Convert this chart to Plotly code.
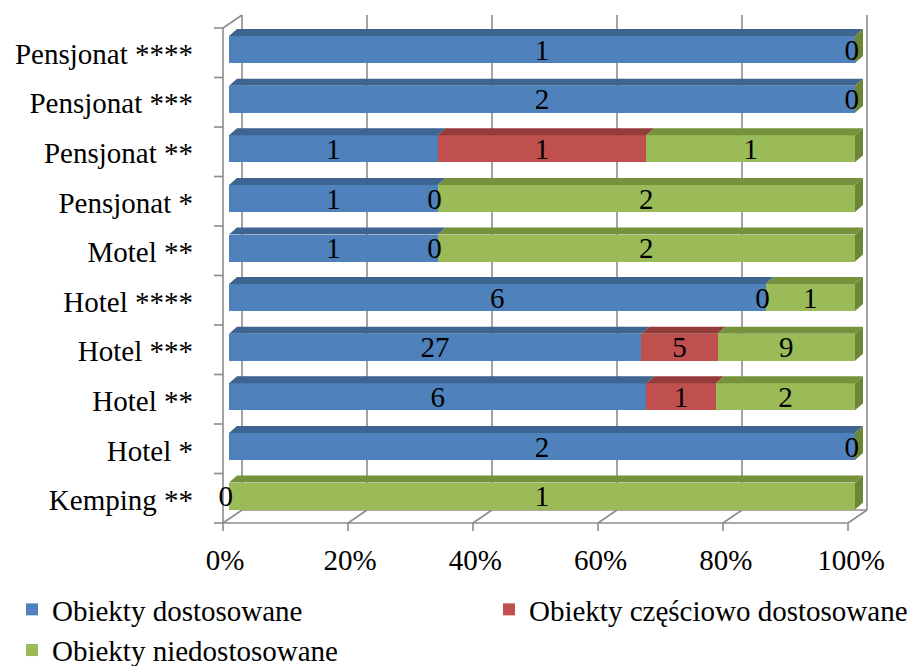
import plotly.graph_objects as go

# Accommodation categories, bottom row first
categories = ["Kemping **", "Hotel *", "Hotel **", "Hotel ***", "Hotel ****",
              "Motel **", "Pensjonat *", "Pensjonat **", "Pensjonat ***", "Pensjonat ****"]

# Object counts per category (None = no label / no entry)
dostosowane = [0, 2, 6, 27, 6, 1, 1, 1, 2, 1]
czesciowo = [None, None, 1, 5, 0, 0, 0, 1, None, None]
niedostosowane = [1, 0, 2, 9, 1, 2, 2, 1, 0, 0]

series_names = ["Obiekty dostosowane", "Obiekty częściowo dostosowane", "Obiekty niedostosowane"]
series_values = [dostosowane, czesciowo, niedostosowane]
front_colors = ["#4F81BD", "#C0504D", "#9BBB59"]
top_colors = ["#3E6491", "#943C3A", "#76923C"]
side_colors = ["#34547A", "#7E3331", "#6B8736"]
legend_ids = ["legend", "legend2", "legend"]

x_ticks = [0, 20, 40, 60, 80, 100]
x_tick_labels = ["0%", "20%", "40%", "60%", "80%", "100%"]

FONT = "'Liberation Serif', 'Times New Roman', serif"
FS = 29
W, H = 914, 666

# ---- pixel geometry of the pseudo-3D frame ----
PX_PER_PCT = 6.26          # horizontal pixels per percent
PX_PER_ROW = 49.6          # vertical pixels per category row
X0_PX, Y0_PX = 229, 496    # pixel position of 0 % / first row centre
PLOT_L, PLOT_R, PLOT_T, PLOT_B = 210, 875, 12, 534

BAR_H_PX = 27              # front face height
DEPTH_DX, DEPTH_DY = 8, 7  # bar depth offset
WALL_DX, WALL_DY = 19, 13  # back-wall offset from the front plane
FRONT_X, FRONT_TOP, FRONT_BOT = 223, 28, 523
TICK_STEP_PX = 125
LABEL_DROP_PX = 3          # value labels sit slightly below the bar centre


def xd(px):
    return (px - X0_PX) / PX_PER_PCT


def yd(py):
    return (Y0_PX - py) / PX_PER_ROW


dx = DEPTH_DX / PX_PER_PCT
dy = DEPTH_DY / PX_PER_ROW
hh = BAR_H_PX / 2 / PX_PER_ROW

# percentages from counts
n = len(categories)
totals = [sum(v[i] or 0 for v in series_values) for i in range(n)]
pcts = [[(v[i] or 0) / totals[i] * 100 for i in range(n)] for v in series_values]

fig = go.Figure()

# front faces of the stacked bars
for name, pv, col, lg in zip(series_names, pcts, front_colors, legend_ids):
    fig.add_trace(go.Bar(
        y=list(range(n)), x=pv, orientation="h", name=name, legend=lg,
        marker=dict(color=col, line=dict(width=0)),
        width=2 * hh, hoverinfo="skip",
    ))

# top faces of each segment
for s, (vals, pv) in enumerate(zip(series_values, pcts)):
    xs, ys = [], []
    for i in range(n):
        if vals[i] is None or vals[i] == 0:
            continue
        left = sum(pcts[k][i] for k in range(s))
        right = left + pv[i]
        xs += [left, right, right + dx, left + dx, left, None]
        ys += [i + hh, i + hh, i + hh + dy, i + hh + dy, i + hh, None]
    if xs:
        fig.add_trace(go.Scatter(x=xs, y=ys, mode="none", fill="toself",
                                 fillcolor=top_colors[s], showlegend=False,
                                 hoverinfo="skip"))

# right-hand side face, coloured by the last series present in the row
for s in range(len(series_values)):
    xs, ys = [], []
    for i in range(n):
        last = max(k for k in range(len(series_values)) if series_values[k][i] is not None)
        if last != s:
            continue
        end = sum(pcts[k][i] for k in range(len(series_values)))
        xs += [end, end + dx, end + dx, end, end, None]
        ys += [i + hh, i + hh + dy, i - hh + dy, i - hh, i + hh, None]
    if xs:
        fig.add_trace(go.Scatter(x=xs, y=ys, mode="none", fill="toself",
                                 fillcolor=side_colors[s], showlegend=False,
                                 hoverinfo="skip"))

# value labels at segment midpoints
tx, ty, tt = [], [], []
for s, (vals, pv) in enumerate(zip(series_values, pcts)):
    for i in range(n):
        if vals[i] is None:
            continue
        left = sum(pcts[k][i] for k in range(s))
        mid = left + pv[i] / 2
        if vals[i] == 0:
            mid -= 0.5
        tx.append(mid)
        ty.append(i - LABEL_DROP_PX / PX_PER_ROW)
        tt.append(str(vals[i]))
fig.add_trace(go.Scatter(x=tx, y=ty, text=tt, mode="text", textposition="middle center",
                         textfont=dict(family=FONT, size=FS, color="black"),
                         showlegend=False, hoverinfo="skip"))

# ---- frame: walls, floor, gridlines, ticks ----
LINE = dict(color="#8C8C8C", width=1.6)
shapes = []


def seg(x0p, y0p, x1p, y1p):
    shapes.append(dict(type="line", xref="x", yref="y", layer="below",
                       x0=xd(x0p), y0=yd(y0p), x1=xd(x1p), y1=yd(y1p), line=LINE))


# back-wall gridlines and floor diagonals
for k in range(len(x_ticks)):
    fx = FRONT_X + k * TICK_STEP_PX
    seg(fx + WALL_DX, FRONT_TOP - WALL_DY, fx + WALL_DX, FRONT_BOT - WALL_DY)
    seg(fx, FRONT_BOT, fx + WALL_DX, FRONT_BOT - WALL_DY)
    seg(fx, FRONT_BOT, fx, FRONT_BOT + 8)
end_x = FRONT_X + (len(x_ticks) - 1) * TICK_STEP_PX
seg(FRONT_X, FRONT_TOP, FRONT_X, FRONT_BOT)
seg(FRONT_X, FRONT_BOT, end_x, FRONT_BOT)
seg(FRONT_X, FRONT_TOP, FRONT_X + WALL_DX, FRONT_TOP - WALL_DY)
seg(FRONT_X + WALL_DX, FRONT_BOT - WALL_DY, end_x + WALL_DX, FRONT_BOT - WALL_DY)
for k in range(n + 1):
    yy = FRONT_BOT - k * (FRONT_BOT - FRONT_TOP) / n
    seg(FRONT_X - 9, yy, FRONT_X, yy)

legend_style = dict(orientation="v", xref="container", yref="container",
                    xanchor="left", yanchor="top", tracegroupgap=0,
                    font=dict(family=FONT, size=FS, color="black"),
                    itemclick=False, itemdoubleclick=False, bgcolor="rgba(0,0,0,0)")

fig.update_layout(
    width=W, height=H,
    barmode="stack",
    bargap=0,
    plot_bgcolor="white", paper_bgcolor="white",
    margin=dict(l=PLOT_L, r=W - PLOT_R, t=PLOT_T, b=H - PLOT_B, autoexpand=False),
    shapes=shapes,
    font=dict(family=FONT, size=FS, color="black"),
    xaxis=dict(range=[xd(PLOT_L), xd(PLOT_R)], tickvals=x_ticks, ticktext=x_tick_labels,
               showgrid=False, zeroline=False, showline=False, ticks="",
               ticklabelshift=-4, ticklabelstandoff=6,
               tickfont=dict(family=FONT, size=FS, color="black"), fixedrange=True),
    yaxis=dict(range=[yd(PLOT_B), yd(PLOT_T)], tickvals=list(range(n)), ticktext=categories,
               showgrid=False, zeroline=False, showline=False, ticks="",
               ticklabelstandoff=16, ticklabelshift=4,
               tickfont=dict(family=FONT, size=FS, color="black"), fixedrange=True),
    legend=dict(x=12 / W, y=1 - 584 / H, traceorder="normal", **legend_style),
    legend2=dict(x=489 / W, y=1 - 584 / H, **legend_style),
    showlegend=True,
)

fig.write_html("out.html")
